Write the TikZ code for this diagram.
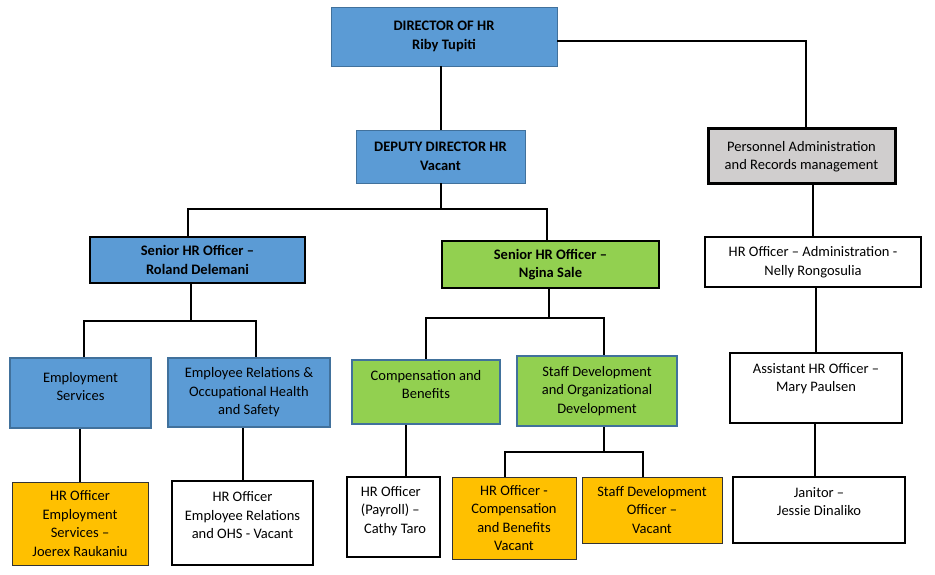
\documentclass[tikz,border=0pt]{standalone}
\usepackage{fontspec}
\setmainfont{Carlito}
\usepackage{tikz}
\usepackage{xcolor}
\definecolor{hrblue}{HTML}{5B9BD5}
\definecolor{hrsteel}{HTML}{41719C}
\definecolor{hrgreen}{HTML}{92D050}
\definecolor{hrorange}{HTML}{FFC000}
\definecolor{hrgrey}{HTML}{D0CECE}
\tikzset{box/.style={draw, align=center, inner sep=2pt,
   font=\fontsize{14.5}{18.5}\selectfont},
 wh/.style 2 args={minimum width=#1, minimum height=#2},
 bluefill/.style={box, fill=hrblue},
 greenfill/.style={box, fill=hrgreen},
 thinedge/.style={draw=hrsteel, line width=0.8pt},
 steeledge/.style={draw=hrsteel, line width=2.5pt},
 darkedge/.style={draw=black, line width=2pt},
 orangebox/.style={box, fill=hrorange, draw=black!80, line width=0.8pt},
 whitebox/.style={box, fill=white, darkedge},
 greybox/.style={box, fill=hrgrey, draw=black, line width=3pt},
 link/.style={draw, line width=2pt},
 }

\begin{document}
\begin{tikzpicture}[x=1pt, y=-1pt]
    \useasboundingbox (0,0) rectangle (935,575);
    % top level
    \node[bluefill, thinedge, wh={226}{59}] (dir) at (444,36.5) {\textbf{DIRECTOR OF HR}\\\textbf{Riby Tupiti}};
    \node[bluefill, thinedge, wh={169}{53}] (dep) at (440.5,156.5) {\textbf{DEPUTY DIRECTOR HR}\\\textbf{Vacant}};
    \node[greybox, wh={187}{55}] (pers) at (801.5,156.5) {Personnel Administration\\and Records management};
    % senior officers
    \node[bluefill, darkedge, wh={215}{46}] (roland) at (197.5,260) {\textbf{Senior HR Officer –}\\\textbf{Roland Delemani}};
    \node[greenfill, darkedge, wh={217}{47}] (ngina) at (550.5,264.5) {\textbf{Senior HR Officer –}\\\textbf{Ngina Sale}};
    \node[whitebox, wh={216}{50}] (hradm) at (813,262) {HR Officer – Administration -\\Nelly Rongosulia};
    % sections
    \node[bluefill, steeledge, wh={141}{70}] (emps) at (80.5,393) {Employment\\Services\\[-5pt]\mbox{}};
    \node[bluefill, steeledge, wh={162}{69}] (emprel) at (249,392.5) {Employee Relations \&\\Occupational Health\\and Safety};
    \node[greenfill, steeledge, wh={148}{64}] (comp) at (426,392) {Compensation and\\Benefits\\[-3pt]\mbox{}};
    \node[greenfill, steeledge, wh={160}{70}] (staffdev) at (597,391) {Staff Development\\and Organizational\\Development};
    \node[whitebox, wh={172}{70}] (asst) at (816,388) {Assistant HR Officer –\\Mary Paulsen\\[3pt]\mbox{}};
    % officers
    \node[orangebox, wh={136}{83}] (hremp) at (80,523.5) {HR Officer\\Employment\\Services –\\Joerex Raukaniu};
    \node[whitebox, wh={141}{84}] (hrer) at (242.5,523) {HR Officer\\Employee Relations\\and OHS - Vacant\\[-3pt]\mbox{}};
    \node[whitebox, wh={93}{80}, align=left] (payroll) at (393.5,517) {HR Officer\\(Payroll) –\\\ Cathy Taro\\[-4pt]\mbox{}};
    \node[orangebox, wh={124}{82}] (hrcomp) at (514,518) {HR Officer -\\Compensation\\and Benefits\\Vacant};
    \node[orangebox, wh={140}{66}] (sdo) at (652,510) {Staff Development\\Officer –\\Vacant};
    \node[whitebox, wh={172}{66}] (janitor) at (819,510) {Janitor –\\Jessie Dinaliko\\[-2pt]\mbox{}};
    % connectors
    \draw[link] (dep.north) -- (dep.north |- dir.south);
    \draw[link] ([yshift=-5pt]dir.east) -| ([xshift=4pt]pers.north);
    \draw[link] (dep.south) -- ++(0,26) -| ([xshift=-10pt]roland.north);
    \draw[link] (dep.south) ++(0,26) -| ([xshift=-4pt]ngina.north);
    \draw[link] ([xshift=-7pt]roland.south) -- ++(0,37) -| ([xshift=3pt]emps.north);
    \draw[link] ([xshift=-7pt]roland.south) ++(0,37) -| ([xshift=7pt]emprel.north);
    \draw[link] ([xshift=-2pt]ngina.south) -- ++(0,29) -| (comp.north);
    \draw[link] ([xshift=-2pt]ngina.south) ++(0,29) -| ([xshift=7pt]staffdev.north);
    \draw[link] (hradm.north) -- (hradm.north |- pers.south);
    \draw[link] (asst.north) -- (asst.north |- hradm.south);
    \draw[link] ([xshift=-1pt]asst.south) -- ([xshift=-1pt]asst.south |- janitor.north);
    \draw[link] (hremp.north) -- (hremp.north |- emps.south);
    \draw[link] (hrer.north) -- (hrer.north |- emprel.south);
    \draw[link] ([xshift=-20pt]comp.south) -- ([xshift=-20pt]comp.south |- payroll.north);
    \draw[link] ([xshift=7pt]staffdev.south) -- ++(0,25) -| ([xshift=-9pt]hrcomp.north);
    \draw[link] ([xshift=7pt]staffdev.south) ++(0,25) -| ([xshift=-9pt]sdo.north);
\end{tikzpicture}
\end{document}
